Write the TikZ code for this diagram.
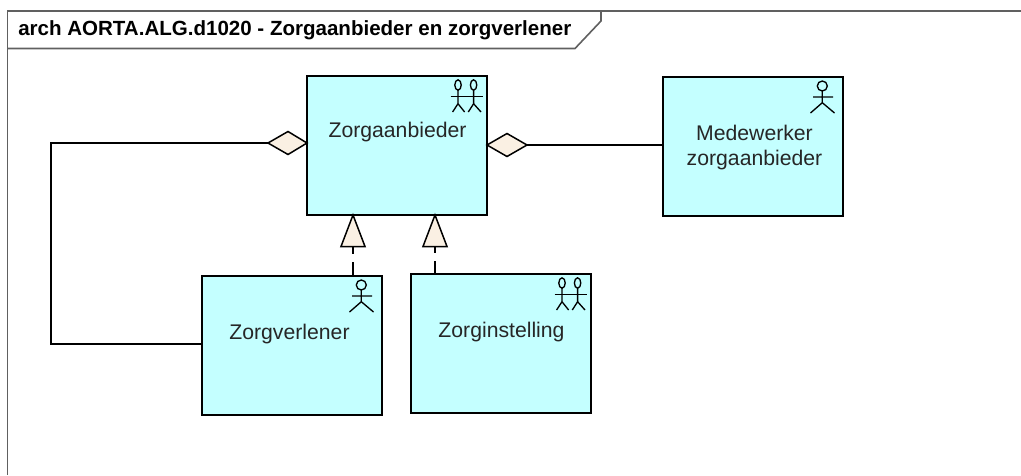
\documentclass[tikz,border=0pt]{standalone}
\usepackage{fontspec}
\setmainfont{Liberation Sans}
\definecolor{boxfill}{HTML}{C4FFFF}
\definecolor{tipfill}{HTML}{FAF0E3}
\definecolor{framecol}{HTML}{606060}
\tikzset{
  x=0.75pt,y=-0.75pt,
  elem/.style={draw=black,fill=boxfill,line width=1.125pt,minimum width=135pt,minimum height=104.25pt,inner sep=0pt,outer sep=0pt,anchor=north west},
  lbl/.style={font=\fontsize{15.9pt}{18.75pt}\selectfont,align=center,text=black!85,inner sep=0pt},
  conn/.style={draw=black,line width=1.125pt},
  tipshape/.style={draw=black,fill=tipfill,line width=1.125pt,line join=miter},
  icon/.style={draw=black,line width=1pt},
  frameline/.style={draw=framecol,line width=1.2pt}
}
\newcommand{\singleactor}[1]{%
  \begin{scope}[shift={(#1)}]
    \draw[icon] (-20.7,9) circle[radius=5];
    \draw[icon] (-20.7,14) -- (-20.7,25.7) (-30,20) -- (-10,20) (-32.5,36) -- (-20.7,25.7) -- (-8.5,36);
  \end{scope}}
\newcommand{\doubleactor}[1]{%
  \begin{scope}[shift={(#1)}]
    \draw[icon] (-29,9) ellipse[x radius=3.2,y radius=5.2];
    \draw[icon] (-13.4,9) ellipse[x radius=3.2,y radius=5.2];
    \draw[icon] (-36.4,20.3) -- (-4.4,20.3);
    \draw[icon] (-29,14.2) -- (-29,27.7) (-34.4,36) -- (-29,27.7) -- (-22.4,36);
    \draw[icon] (-13.4,14.2) -- (-13.4,27.7) (-18.7,36) -- (-13.4,27.7) -- (-6,36);
  \end{scope}}
\begin{document}
\begin{tikzpicture}
\useasboundingbox (0,0) rectangle (1021,475);
% frame
\coordinate (fTL) at (7.5,11);
\coordinate (fTR) at (1021,11);
\coordinate (fBL) at (7.5,475);
\draw[frameline] (fBL) -- (fTL) -- (fTR);
\draw[frameline] (7.5,48.5) -- (575,48.5) -- (601,21) -- (601,11);
\node[anchor=west,inner sep=0pt,font=\bfseries\fontsize{15.4pt}{18pt}\selectfont] (title) at (18,30.5) {arch AORTA.ALG.d1020 - Zorgaanbieder en zorgverlener};
% elements
\node[elem] (za) at (307,76) {};
\node[elem] (mw) at (663,77) {};
\node[elem] (zv) at (202,276) {};
\node[elem] (zi) at (411,274) {};
\node[lbl] (zal) at (397.5,132.5) {Zorgaanbieder};
\node[lbl] (mwl) at (754.5,147.5) {Medewerker\\zorgaanbieder};
\node[lbl] (zvl) at (289.5,334.5) {Zorgverlener};
\node[lbl] (zil) at (501.5,332.5) {Zorginstelling};
\singleactor{843,77}
\singleactor{382,276}
\doubleactor{487,76}
\doubleactor{591,274}
% aggregations
\coordinate (d1) at (268,143);
\coordinate (c1) at (51,143);
\coordinate (c2) at (51,344);
\draw[conn] (d1) -- (c1) -- (c2) -- (zv.west |- c2);
\draw[tipshape] (za.west |- d1) -- (288,131.5) -- (d1) -- (288,154.5) -- cycle;
\coordinate (d2) at (527,145);
\draw[conn] (d2) -- (mw.west |- d2);
\draw[tipshape] (za.east |- d2) -- (507,133.5) -- (d2) -- (507,156.5) -- cycle;
% realizations
\coordinate (a1) at (353,246.5);
\coordinate (a2) at (435,246.5);
\draw[conn,dash pattern=on 10.8pt off 6pt] (zv.north -| a1) -- (a1);
\draw[conn,dash pattern=on 9.8pt off 6pt] (zi.north -| a2) -- (a2);
\draw[tipshape] (za.south -| a1) -- (341,246.5) -- (365,246.5) -- cycle;
\draw[tipshape] (za.south -| a2) -- (423,246.5) -- (447,246.5) -- cycle;
\end{tikzpicture}
\end{document}
